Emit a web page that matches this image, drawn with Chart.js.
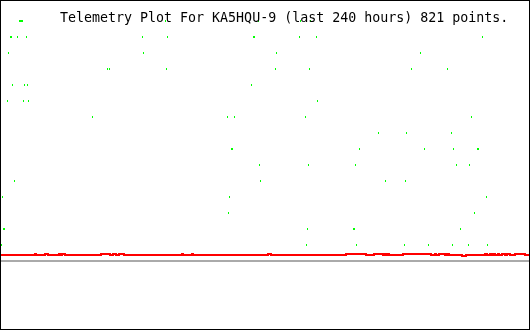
<!DOCTYPE html>
<html>
<head>
<meta charset="utf-8">
<script src="https://cdn.jsdelivr.net/npm/chart.js@4/dist/chart.umd.min.js"></script>
<style>
  html, body { margin: 0; padding: 0; background: #fff; }
  #wrap { position: absolute; left: 0; top: 0; width: 528px; height: 328px; border: 1px solid #000; background: #fff; }
  #c { position: absolute; left: 0; top: 0; }
  #title { position: absolute; left: 59px; top: 9px; font-family: "DejaVu Sans Mono", monospace; font-size: 13.3px; line-height: 15px; color: #000; white-space: pre; }
</style>
</head>
<body>
<div id="wrap">
  <canvas id="c" width="528" height="328"></canvas>
  <div id="title"></div>
</div>
<script>
const titleText = "Telemetry Plot For KA5HQU-9 (last 240 hours) 821 points.";
const hoursSpan = 240;

// green samples (hours, level) - thin marks
const greenHours = [
  74.77, 117.05, 136.14, 140.68,
  7.50, 11.59, 64.32, 75.68, 135.68, 143.41, 218.86,
  3.41, 64.77, 125.23, 190.68,
  48.41, 49.32, 75.23, 124.77, 140.23, 186.59, 202.95,
  5.23, 10.68, 12.05, 113.86,
  2.95, 10.23, 12.5, 143.86,
  41.59, 102.95, 106.14, 138.41, 213.86,
  171.59, 184.32, 204.77,
  162.95, 192.5, 205.68,
  117.5, 139.77, 161.14, 207.05, 212.95,
  6.14, 117.95, 174.77, 183.86,
  0.68, 103.86, 220.68,
  103.41, 215.23,
  139.32, 208.86,
  0.23, 138.86, 161.59, 183.41, 194.32, 205.23, 212.5, 221.14
];
const greenLevels = [
  14, 14, 14, 14,
  13, 13, 13, 13, 13, 13, 13,
  12, 12, 12, 12,
  11, 11, 11, 11, 11, 11, 11,
  10, 10, 10, 10,
  9, 9, 9, 9,
  8, 8, 8, 8, 8,
  7, 7, 7,
  6, 6, 6,
  5, 5, 5, 5, 5,
  4, 4, 4, 4,
  3, 3, 3,
  2, 2,
  1, 1,
  0, 0, 0, 0, 0, 0, 0, 0
];
// green samples drawn as heavier marks (repeated readings)
const wideHours = [8.64, 9.55, 4.55, 115.0, 105.0, 216.82, 1.36, 160.45];
const wideLevels = [14, 14, 13, 13, 6, 6, 1, 1];

// red trace (step changes)
const redHours = [0, 15.45, 15.91, 20.0, 21.36, 26.36, 27.27, 27.73, 29.09, 45.45, 49.55, 50.91, 52.27, 53.64, 55.91,
  82.27, 82.73, 86.82, 87.27, 121.36, 122.73, 156.82, 165.91, 169.55, 173.64, 174.55, 175.0, 175.91, 176.36,
  182.73, 195.45, 197.27, 197.73, 199.09, 201.82, 202.73, 203.64, 209.55, 211.36, 220.0, 220.91, 222.27, 222.73,
  223.64, 224.55, 225.91, 226.36, 227.73, 229.09, 230.0, 231.36, 233.64, 238.18, 240];
const redLevels = [-0.625, -0.5625, -0.625, -0.5625, -0.625, -0.5625, -0.625, -0.5625, -0.625, -0.5625, -0.625, -0.5625, -0.625, -0.5625, -0.625,
  -0.5625, -0.625, -0.5625, -0.625, -0.5625, -0.625, -0.5625, -0.625, -0.5625, -0.625, -0.5625, -0.625, -0.5625, -0.625,
  -0.5625, -0.625, -0.5625, -0.625, -0.5625, -0.625, -0.5625, -0.625, -0.6875, -0.625, -0.5625, -0.625, -0.5625, -0.625,
  -0.5625, -0.625, -0.5625, -0.625, -0.5625, -0.625, -0.5625, -0.625, -0.5625, -0.625, -0.625];

const baselineLevel = -1;
const levelMin = -5.25, levelMax = 15.25;

document.getElementById('title').textContent = titleText;

function markImage(w, h, color) {
  const cv = document.createElement('canvas');
  cv.width = w; cv.height = h;
  const cx = cv.getContext('2d');
  cx.fillStyle = color;
  cx.fillRect(0, 0, w, h);
  return cv;
}
const thinMark = markImage(1, 2, '#00ff00');
const wideMark = markImage(2, 2, '#00ff00');

const greenPts = greenHours.map((h, i) => ({ x: h, y: greenLevels[i] }));
const widePts = wideHours.map((h, i) => ({ x: h, y: wideLevels[i] }));
const redPts = redHours.map((h, i) => ({ x: h, y: redLevels[i] }));
const grayPts = [{ x: 0, y: baselineLevel }, { x: hoursSpan, y: baselineLevel }];

new Chart(document.getElementById('c'), {
  type: 'scatter',
  data: {
    datasets: [
      { type: 'line', data: grayPts, borderColor: '#aaaaaa', borderWidth: 2, pointRadius: 0, fill: false, order: 4 },
      { type: 'line', data: redPts, borderColor: '#ff0000', borderWidth: 2, pointRadius: 0, stepped: true, fill: false, order: 3 },
      { data: greenPts, pointStyle: thinMark, pointRadius: 1, backgroundColor: '#00ff00', borderWidth: 0, order: 2 },
      { data: widePts, pointStyle: wideMark, pointRadius: 1, backgroundColor: '#00ff00', borderWidth: 0, order: 1 }
    ]
  },
  options: {
    responsive: false,
    animation: false,
    devicePixelRatio: 1,
    layout: { padding: 0, autoPadding: false },
    plugins: { legend: { display: false }, tooltip: { enabled: false }, title: { display: false } },
    scales: {
      x: { type: 'linear', min: 0, max: hoursSpan, display: false },
      y: { type: 'linear', min: levelMin, max: levelMax, display: false }
    }
  }
});
</script>
</body>
</html>
